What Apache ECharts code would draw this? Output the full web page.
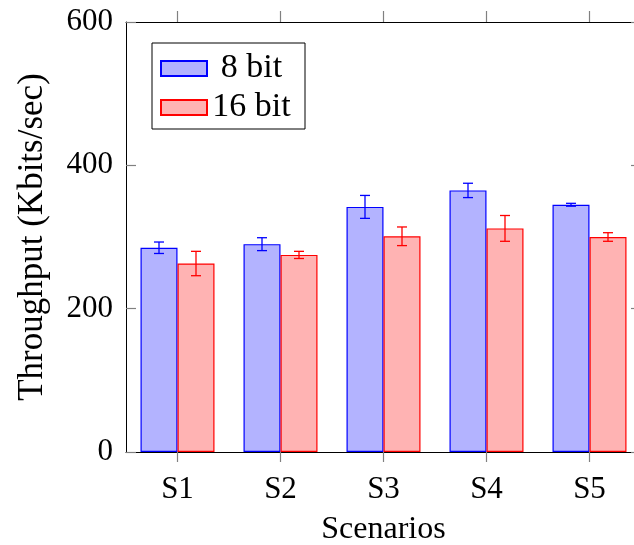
<!DOCTYPE html>
<html><head><meta charset="utf-8">
<script src="https://cdn.jsdelivr.net/npm/echarts@6/dist/echarts.min.js"></script>
<style>html,body{margin:0;padding:0;background:#fff}#c{width:634px;height:545px}</style>
</head><body><div id="c"></div>
<script>
const categories = ['S1', 'S2', 'S3', 'S4', 'S5'];
const seriesNames = ['8 bit', '16 bit'];
const values8 = [285, 290, 342, 365, 345];
const err8 = [8, 9, 16, 10, 2];
const values16 = [263, 275, 301, 312, 300];
const err16 = [17, 5, 13, 18, 6];
const yMin = 0, yMax = 600, yStep = 200;

const FONT = '"Liberation Serif", "DejaVu Serif", serif';
const FS = 31;
const BAR_W = 37;
const CAP = 5;
const TICK_GRAY = '#808080';

function errorSeries(name, values, errs, color, side) {
  return {
    type: 'custom',
    name: name + ' error',
    xAxisIndex: 0, yAxisIndex: 0,
    silent: true, z: 5,
    data: values.map((v, i) => [i, v - errs[i], v + errs[i]]),
    renderItem(params, api) {
      const lo = api.coord([api.value(0), api.value(1)]);
      const hi = api.coord([api.value(0), api.value(2)]);
      const x = lo[0] + side * BAR_W / 2;
      const st = { stroke: color, lineWidth: 1.3 };
      return { type: 'group', children: [
        { type: 'line', shape: { x1: x, y1: hi[1], x2: x, y2: lo[1] }, style: st },
        { type: 'line', shape: { x1: x - CAP, y1: hi[1], x2: x + CAP, y2: hi[1] }, style: st },
        { type: 'line', shape: { x1: x - CAP, y1: lo[1], x2: x + CAP, y2: lo[1] }, style: st }
      ]};
    }
  };
}

const chart = echarts.init(document.getElementById('c'), null, { renderer: 'canvas' });
chart.setOption({
  animation: false,
  backgroundColor: '#fff',
  textStyle: { fontFamily: FONT, color: '#000' },
  grid: { left: 126, top: 22, width: 515, height: 430, containLabel: false, outerBoundsMode: 'none',
          show: false },
  legend: {
    left: 152, top: 43, orient: 'vertical',
    padding: [7, 14, 3, 8], itemGap: 2, itemWidth: 46, itemHeight: 15,
    borderColor: '#000', borderWidth: 1, backgroundColor: '#fff',
    icon: 'rect', selectedMode: false,
    data: seriesNames,
    formatter: n => '{t|' + n + '}',
    textStyle: { fontFamily: FONT, fontSize: 34, lineHeight: 37, rich: { t: { width: 79, align: 'center', fontSize: 34, lineHeight: 37, fontFamily: FONT, color: '#000' } } }
  },
  xAxis: [{
    type: 'category', data: categories, position: 'bottom', boundaryGap: true,
    axisLine: { show: true, onZero: false, lineStyle: { color: '#000', width: 1 } },
    axisTick: { show: true, alignWithLabel: true, interval: 0, inside: false, length: 10, lineStyle: { color: TICK_GRAY, width: 1.2 } },
    axisLabel: { fontSize: FS, fontFamily: FONT, color: '#000', margin: 22, interval: 0 },
    splitLine: { show: false },
    name: 'Scenarios', nameLocation: 'middle', nameGap: 62,
    nameTextStyle: { fontSize: 32, fontFamily: FONT, color: '#000' }
  }, {
    type: 'category', data: categories, position: 'top', boundaryGap: true,
    axisLine: { show: true, onZero: false, lineStyle: { color: '#000', width: 1 } },
    axisTick: { show: true, alignWithLabel: true, interval: 0, inside: false, length: 11, lineStyle: { color: TICK_GRAY, width: 1.2 } },
    axisLabel: { show: false }, splitLine: { show: false }
  }],
  yAxis: [{
    type: 'value', min: yMin, max: yMax, interval: yStep, position: 'left',
    axisLine: { show: true, onZero: false, lineStyle: { color: '#000', width: 1 } },
    axisTick: { show: true, inside: true, length: 10, lineStyle: { color: TICK_GRAY, width: 1.2 } },
    axisLabel: { fontSize: FS, fontFamily: FONT, color: '#000', margin: 13 },
    splitLine: { show: false },
    name: 'Throughput (Kbits/sec)', nameLocation: 'middle', nameGap: 76, nameRotate: 90,
    nameTextStyle: { fontSize: 35, fontFamily: FONT, color: '#000' }
  }, {
    type: 'value', min: yMin, max: yMax, interval: yStep, position: 'right',
    axisLine: { show: true, onZero: false, lineStyle: { color: '#000', width: 1 } },
    axisTick: { show: true, inside: true, length: 10, lineStyle: { color: TICK_GRAY, width: 1.2 } },
    axisLabel: { show: false }, splitLine: { show: false }
  }],
  series: [{
    type: 'bar', name: seriesNames[0], data: values8, barWidth: BAR_W, barGap: '0%',
    itemStyle: { color: '#b3b3ff', borderColor: '#0000ff', borderWidth: 1.2 }, z: 2
  }, {
    type: 'bar', name: seriesNames[1], data: values16, barWidth: BAR_W, barGap: '0%',
    itemStyle: { color: '#ffb3b3', borderColor: '#ff0000', borderWidth: 1.2 }, z: 2
  },
    errorSeries(seriesNames[0], values8, err8, '#0000ff', -1),
    errorSeries(seriesNames[1], values16, err16, '#ff0000', 1)
  ]
});
</script></body></html>
